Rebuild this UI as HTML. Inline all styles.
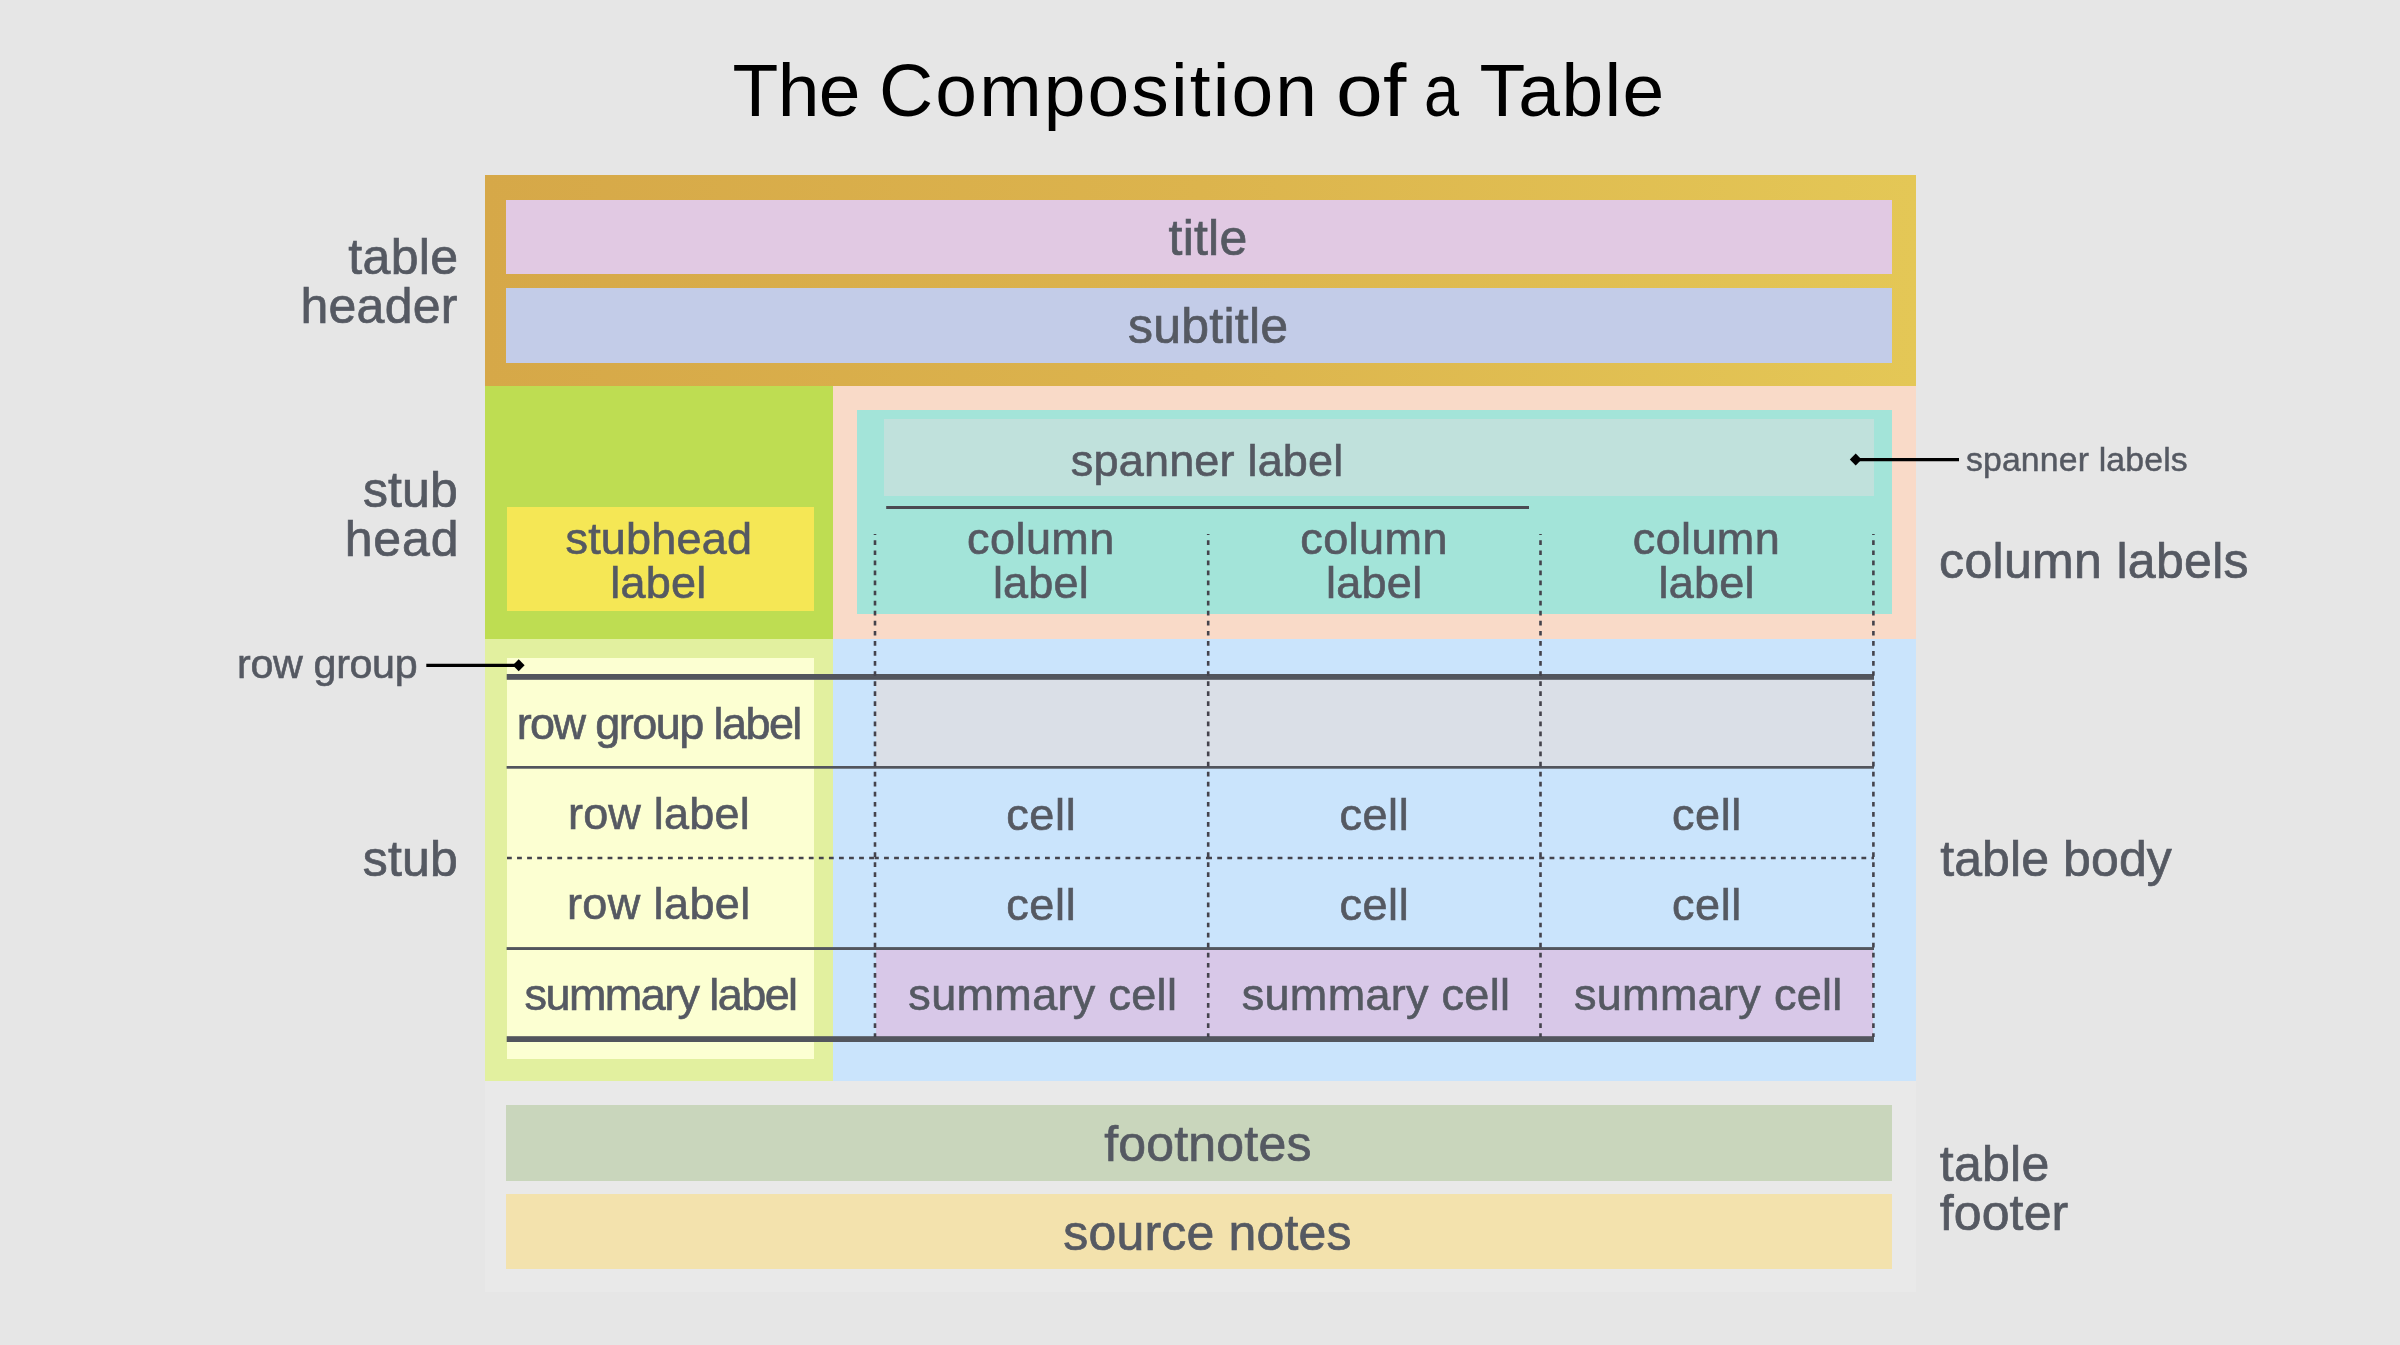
<!DOCTYPE html>
<html lang="en">
<head>
<meta charset="utf-8">
<title>The Composition of a Table</title>
<style>
html,body{margin:0;padding:0;}
body{width:2400px;height:1345px;overflow:hidden;background:#e6e6e6;position:relative;
 font-family:"Liberation Sans",sans-serif;color:#555962;}
.r{position:absolute;}
.t{position:absolute;white-space:nowrap;-webkit-text-stroke:0.014em currentColor;}
.k{-webkit-text-stroke:0;}
svg{position:absolute;left:0;top:0;}
#labels{position:absolute;left:0;top:0;width:2400px;height:1345px;will-change:transform;}
</style>
</head>
<body>

<div class="r" style="left:485px;top:175px;width:1431.00px;height:210.50px;background:linear-gradient(90deg,#d6a848 0%,#dcb44d 50%,#e4c756 100%);"></div>
<div class="r" style="left:506px;top:199.5px;width:1386.00px;height:74.50px;background:#e1c9e3;"></div>
<div class="r" style="left:506px;top:287.5px;width:1386.00px;height:75.50px;background:#c3cce8;"></div>
<div class="r" style="left:484.5px;top:385.5px;width:348.50px;height:253.00px;background:#bedd52;"></div>
<div class="r" style="left:506.5px;top:507px;width:307.80px;height:103.70px;background:#f5e755;"></div>
<div class="r" style="left:833px;top:385.5px;width:1083.00px;height:253.50px;background:#f9dac8;"></div>
<div class="r" style="left:857px;top:410px;width:1035.00px;height:204.20px;background:#a3e4d9;"></div>
<div class="r" style="left:884.3px;top:418.8px;width:989.70px;height:76.90px;background:#c0e1dc;"></div>
<div class="r" style="left:484.8px;top:638.5px;width:348.40px;height:442.50px;background:#e2f09f;"></div>
<div class="r" style="left:506.6px;top:657.9px;width:307.70px;height:401.00px;background:#fcffd2;"></div>
<div class="r" style="left:833.2px;top:639px;width:1082.80px;height:442.00px;background:#cae4fc;"></div>
<div class="r" style="left:876px;top:679px;width:996.50px;height:88.00px;background:#dadfe7;"></div>
<div class="r" style="left:876px;top:950px;width:996.50px;height:87.00px;background:#d8c8e8;"></div>
<div class="r" style="left:485px;top:1081px;width:1431.00px;height:211.00px;background:#e9e9e9;"></div>
<div class="r" style="left:506px;top:1105.4px;width:1386.00px;height:75.20px;background:#c9d6bc;"></div>
<div class="r" style="left:506px;top:1194px;width:1386.00px;height:74.60px;background:#f3e2ad;"></div>
<svg width="2400" height="1345" viewBox="0 0 2400 1345">
<rect x="886.2" y="506" width="642.8" height="3" fill="#4b4a52"/>
<rect x="506.7" y="674" width="1367.3" height="5.8" fill="#52555d"/>
<rect x="506.7" y="1036.2" width="1367.3" height="5.8" fill="#52555d"/>
<rect x="506.6" y="766" width="1367.4" height="2.7" fill="#52555d"/>
<rect x="506.6" y="947.1" width="1367.4" height="2.9" fill="#52555d"/>
<line x1="507" y1="858" x2="875" y2="858" stroke="#44434c" stroke-width="2.5" stroke-dasharray="4.8 5.26" stroke-dashoffset="0"/>
<line x1="874.6" y1="858" x2="1208.2" y2="858" stroke="#44434c" stroke-width="2.5" stroke-dasharray="4.8 5.26" stroke-dashoffset="0.6"/>
<line x1="1207.8" y1="858" x2="1540.5" y2="858" stroke="#44434c" stroke-width="2.5" stroke-dasharray="4.8 5.26" stroke-dashoffset="0.6"/>
<line x1="1540.1" y1="858" x2="1874" y2="858" stroke="#44434c" stroke-width="2.5" stroke-dasharray="4.8 5.26" stroke-dashoffset="0.6"/>
<line x1="875" y1="534" x2="875" y2="1037" stroke="#44434c" stroke-width="2.6" stroke-dasharray="4.7 5.36" stroke-dashoffset="3.7"/>
<line x1="1208.2" y1="534" x2="1208.2" y2="1037" stroke="#44434c" stroke-width="2.6" stroke-dasharray="4.7 5.36" stroke-dashoffset="3.7"/>
<line x1="1540.5" y1="534" x2="1540.5" y2="1037" stroke="#44434c" stroke-width="2.6" stroke-dasharray="4.7 5.36" stroke-dashoffset="3.7"/>
<line x1="1873.4" y1="534" x2="1873.4" y2="1037" stroke="#44434c" stroke-width="2.6" stroke-dasharray="4.7 5.36" stroke-dashoffset="3.7"/>
<line x1="1856" y1="459.6" x2="1959" y2="459.6" stroke="#000" stroke-width="3.2"/>
<path d="M1849.8 459.6 L1855.7 453.6 L1861.6 459.6 L1855.7 465.6 Z" fill="#000"/>
<line x1="426.3" y1="665.3" x2="518" y2="665.3" stroke="#000" stroke-width="3.2"/>
<path d="M512.8 665.3 L518.7 659.3 L524.6 665.3 L518.7 671.3 Z" fill="#000"/>
</svg>
<div id="labels">
<div class="t k" id="t0" style="top:52.50px;font-size:75px;line-height:75px;letter-spacing:-0.55px;color:#000;left:732.40px;">The</div>
<div class="t k" id="t1" style="top:52.50px;font-size:75px;line-height:75px;letter-spacing:2.1px;color:#000;left:879.10px;">Composition</div>
<div class="t k" id="t2" style="top:52.50px;font-size:75px;line-height:75px;letter-spacing:0.2px;color:#000;left:1335.70px;transform:scaleX(1.12);transform-origin:0 0;">of</div>
<div class="t k" id="t3" style="top:52.50px;font-size:75px;line-height:75px;letter-spacing:0.5px;color:#000;left:1424.00px;transform:scaleX(0.84);transform-origin:0 0;">a</div>
<div class="t k" id="t4" style="top:52.50px;font-size:75px;line-height:75px;letter-spacing:1.4px;color:#000;left:1479.40px;">Table</div>
<div class="t" id="t5" style="top:232.00px;font-size:50px;line-height:50px;letter-spacing:0.325px;right:1941.58px;">table</div>
<div class="t" id="t6" style="top:281.00px;font-size:50px;line-height:50px;letter-spacing:0.28px;right:1942.22px;">header</div>
<div class="t" id="t7" style="top:465.00px;font-size:50px;line-height:50px;letter-spacing:0.1px;right:1942.10px;">stub</div>
<div class="t" id="t8" style="top:514.00px;font-size:50px;line-height:50px;letter-spacing:0.9px;right:1940.50px;">head</div>
<div class="t" id="t9" style="top:834.00px;font-size:50px;line-height:50px;letter-spacing:0.2px;right:1942.00px;">stub</div>
<div class="t" id="t10" style="top:644.38px;font-size:41.25px;line-height:41.25px;letter-spacing:-0.362px;left:237.10px;">row group</div>
<div class="t" id="t11" style="top:213.00px;font-size:50px;line-height:50px;letter-spacing:0.2px;left:1208.00px;transform:translateX(-50%);">title</div>
<div class="t" id="t12" style="top:301.00px;font-size:50px;line-height:50px;letter-spacing:0.214px;left:1208.16px;transform:translateX(-50%);">subtitle</div>
<div class="t" id="t13" style="top:438.00px;font-size:45px;line-height:45px;letter-spacing:0.192px;left:1207.15px;transform:translateX(-50%);">spanner label</div>
<div class="t" id="t14" style="top:516.00px;font-size:45px;line-height:45px;letter-spacing:0.214px;left:658.86px;transform:translateX(-50%);">stubhead</div>
<div class="t" id="t15" style="top:560.00px;font-size:45px;line-height:45px;letter-spacing:0.275px;left:658.39px;transform:translateX(-50%);">label</div>
<div class="t" id="t16" style="top:516.00px;font-size:45px;line-height:45px;letter-spacing:0.44px;left:1040.92px;transform:translateX(-50%);">column</div>
<div class="t" id="t17" style="top:560.00px;font-size:45px;line-height:45px;letter-spacing:0.15px;left:1040.88px;transform:translateX(-50%);">label</div>
<div class="t" id="t18" style="top:792.00px;font-size:45px;line-height:45px;letter-spacing:0.633px;left:1041.27px;transform:translateX(-50%);">cell</div>
<div class="t" id="t19" style="top:882.00px;font-size:45px;line-height:45px;letter-spacing:0.633px;left:1041.27px;transform:translateX(-50%);">cell</div>
<div class="t" id="t20" style="top:972.00px;font-size:45px;line-height:45px;letter-spacing:0.318px;left:1042.81px;transform:translateX(-50%);">summary cell</div>
<div class="t" id="t21" style="top:516.00px;font-size:45px;line-height:45px;letter-spacing:0.42px;left:1374.06px;transform:translateX(-50%);">column</div>
<div class="t" id="t22" style="top:560.00px;font-size:45px;line-height:45px;letter-spacing:0.25px;left:1374.23px;transform:translateX(-50%);">label</div>
<div class="t" id="t23" style="top:792.00px;font-size:45px;line-height:45px;letter-spacing:0.533px;left:1374.37px;transform:translateX(-50%);">cell</div>
<div class="t" id="t24" style="top:882.00px;font-size:45px;line-height:45px;letter-spacing:0.533px;left:1374.37px;transform:translateX(-50%);">cell</div>
<div class="t" id="t25" style="top:972.00px;font-size:45px;line-height:45px;letter-spacing:0.282px;left:1375.99px;transform:translateX(-50%);">summary cell</div>
<div class="t" id="t26" style="top:516.00px;font-size:45px;line-height:45px;letter-spacing:0.36px;left:1706.48px;transform:translateX(-50%);">column</div>
<div class="t" id="t27" style="top:560.00px;font-size:45px;line-height:45px;letter-spacing:0.225px;left:1706.66px;transform:translateX(-50%);">label</div>
<div class="t" id="t28" style="top:792.00px;font-size:45px;line-height:45px;letter-spacing:0.6px;left:1706.90px;transform:translateX(-50%);">cell</div>
<div class="t" id="t29" style="top:882.00px;font-size:45px;line-height:45px;letter-spacing:0.6px;left:1706.90px;transform:translateX(-50%);">cell</div>
<div class="t" id="t30" style="top:972.00px;font-size:45px;line-height:45px;letter-spacing:0.3px;left:1708.30px;transform:translateX(-50%);">summary cell</div>
<div class="t" id="t31" style="top:701.00px;font-size:45px;line-height:45px;letter-spacing:-1.571px;left:658.71px;transform:translateX(-50%);">row group label</div>
<div class="t" id="t32" style="top:791.00px;font-size:45px;line-height:45px;letter-spacing:0.2px;left:658.90px;transform:translateX(-50%);">row label</div>
<div class="t" id="t33" style="top:881.00px;font-size:45px;line-height:45px;letter-spacing:0.4px;left:658.80px;transform:translateX(-50%);">row label</div>
<div class="t" id="t34" style="top:972.00px;font-size:45px;line-height:45px;letter-spacing:-1.592px;left:660.55px;transform:translateX(-50%);">summary label</div>
<div class="t" id="t35" style="top:1119.00px;font-size:50px;line-height:50px;letter-spacing:0.2px;left:1207.90px;transform:translateX(-50%);">footnotes</div>
<div class="t" id="t36" style="top:1208.00px;font-size:50px;line-height:50px;letter-spacing:0.173px;left:1207.54px;transform:translateX(-50%);">source notes</div>
<div class="t" id="t37" style="top:443.12px;font-size:33.75px;line-height:33.75px;letter-spacing:0.177px;left:1965.90px;">spanner labels</div>
<div class="t" id="t38" style="top:536.00px;font-size:50px;line-height:50px;letter-spacing:0.317px;left:1939.10px;">column labels</div>
<div class="t" id="t39" style="top:834.00px;font-size:50px;line-height:50px;letter-spacing:0.1px;left:1940.20px;">table body</div>
<div class="t" id="t40" style="top:1139.00px;font-size:50px;line-height:50px;letter-spacing:0.25px;left:1939.80px;">table</div>
<div class="t" id="t41" style="top:1188.00px;font-size:50px;line-height:50px;letter-spacing:0.14px;left:1939.70px;">footer</div>
</div>
</body>
</html>
